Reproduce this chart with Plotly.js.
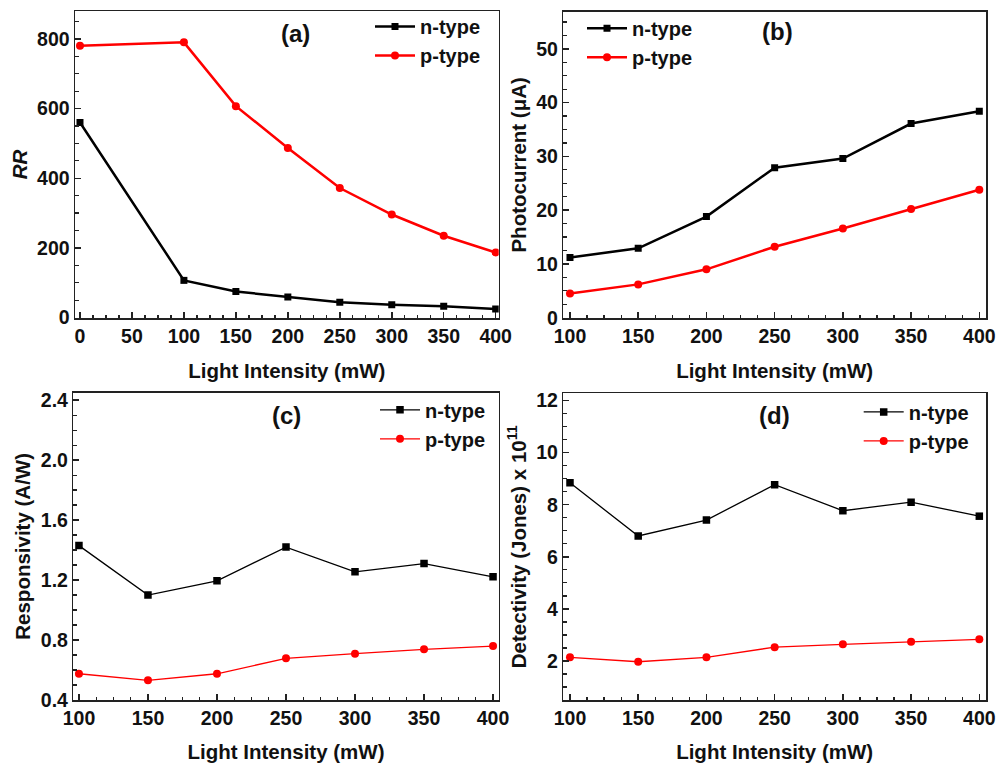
<!DOCTYPE html>
<html>
<head>
<meta charset="utf-8">
<script src="https://cdn.plot.ly/plotly-3.0.1.min.js"></script>
<style>html,body{margin:0;padding:0;background:#fff;}#chart{width:996px;height:763px;}</style>
</head>
<body>
<div id="chart"></div>
<script>
// ---- data ----
const seriesNames = ['n-type', 'p-type'];
const intensityA = [0, 100, 150, 200, 250, 300, 350, 400];
const rrN = [560, 107, 75, 59, 44, 37, 33, 25];
const rrP = [780, 790, 607, 487, 372, 296, 235, 187];
const intensity = [100, 150, 200, 250, 300, 350, 400];
const photoN = [11.2, 12.9, 18.8, 27.9, 29.6, 36.1, 38.4];
const photoP = [4.5, 6.2, 9.0, 13.2, 16.6, 20.2, 23.8];
const respN = [1.43, 1.10, 1.195, 1.42, 1.255, 1.31, 1.222];
const respP = [0.575, 0.531, 0.575, 0.678, 0.709, 0.738, 0.76];
const detN = [8.84, 6.80, 7.41, 8.77, 7.77, 8.10, 7.56];
const detP = [2.14, 1.97, 2.14, 2.53, 2.64, 2.74, 2.83];
const panelLabels = ['(a)', '(b)', '(c)', '(d)'];
const xTitle = 'Light Intensity (mW)';
const yTitles = ['<i>RR</i>', 'Photocurrent (\u03bcA)', 'Responsivity (A/W)', 'Detectivity (Jones) x 10<sup>11</sup>'];

// ---- styles ----
const FONT = 'Liberation Sans, Arial, sans-serif';
const BLACK = '#000000', RED = '#ff0000';

function mk(x, y, name, color, sym, xa, ya, lw, ms, legend) {
  return {
    x: x, y: y, name: name, type: 'scatter', mode: 'lines+markers',
    xaxis: xa, yaxis: ya, legend: legend, showlegend: true,
    line: {color: color, width: lw},
    marker: {color: color, symbol: sym, size: ms}
  };
}

const data = [
  mk(intensityA, rrN, seriesNames[0], BLACK, 'square', 'x', 'y', 2.5, 7, 'legend'),
  mk(intensityA, rrP, seriesNames[1], RED, 'circle', 'x', 'y', 2.5, 8, 'legend'),
  mk(intensity, photoN, seriesNames[0], BLACK, 'square', 'x2', 'y2', 2.5, 7, 'legend2'),
  mk(intensity, photoP, seriesNames[1], RED, 'circle', 'x2', 'y2', 2.5, 8, 'legend2'),
  mk(intensity, respN, seriesNames[0], BLACK, 'square', 'x3', 'y3', 1.3, 7.5, 'legend3'),
  mk(intensity, respP, seriesNames[1], RED, 'circle', 'x3', 'y3', 1.3, 8, 'legend3'),
  mk(intensity, detN, seriesNames[0], BLACK, 'square', 'x4', 'y4', 1.3, 7.5, 'legend4'),
  mk(intensity, detP, seriesNames[1], RED, 'circle', 'x4', 'y4', 1.3, 8, 'legend4')
];

function xax(domain, range, tick0, anchor) {
  return {
    domain: domain, range: range, anchor: anchor,
    tick0: tick0, dtick: 50, ticks: 'inside', ticklen: 6, tickwidth: 1.5, tickcolor: '#222',
    minor: {ticks: 'inside', ticklen: 3.5, tickwidth: 1.3, tickcolor: '#222', dtick: 12.5, showgrid: false},
    showline: true, linecolor: '#222', linewidth: 1.5, mirror: true,
    showgrid: false, zeroline: false,
    tickfont: {family: FONT, size: 19.5, color: '#111', weight: 'bold'},
    title: {text: xTitle, font: {family: FONT, size: 20.5, color: '#111', weight: 'bold'}, standoff: 17}
  };
}
function yax(domain, range, dtick, minorD, anchor, title, fmt) {
  return {
    domain: domain, range: range, anchor: anchor,
    tick0: 0, dtick: dtick, tickformat: fmt || '', ticks: 'inside', ticklen: 6, tickwidth: 1.5, tickcolor: '#222',
    minor: {ticks: 'inside', ticklen: 3.5, tickwidth: 1.3, tickcolor: '#222', dtick: minorD, showgrid: false},
    showline: true, linecolor: '#222', linewidth: 1.5, mirror: true,
    showgrid: false, zeroline: false,
    tickfont: {family: FONT, size: 19.5, color: '#111', weight: 'bold'},
    title: {text: title, font: {family: FONT, size: 20.5, color: '#111', weight: 'bold'}, standoff: 4}
  };
}

const legFont = {family: FONT, size: 20, color: '#111', weight: 'bold'};
function leg(x, y) {
  return {x: x, y: y, xref: 'paper', yref: 'paper', xanchor: 'left', yanchor: 'top',
    bgcolor: 'rgba(0,0,0,0)', borderwidth: 0, font: legFont, itemwidth: 40, tracegroupgap: 0};
}

function ann(text, x, y) {
  return {text: text, x: x, y: y, xref: 'paper', yref: 'paper', xanchor: 'center', yanchor: 'middle',
    showarrow: false, font: {family: FONT, size: 24, color: '#111', weight: 'bold'}};
}

const W = 996, H = 763;
const layout = {
  width: W, height: H,
  margin: {l: 0, r: 0, t: 0, b: 0},
  paper_bgcolor: '#ffffff', plot_bgcolor: '#ffffff',
  showlegend: true,
  xaxis: xax([75 / W, 498.7 / W], [-4.8, 402.9], 0, 'y'),
  yaxis: yax([1 - 318 / H, 1 - 11 / H], [-1, 880], 200, 50, 'x', yTitles[0]),
  xaxis2: xax([563.3 / W, 986 / W], [95.1, 404.9], 100, 'y2'),
  yaxis2: yax([1 - 318 / H, 1 - 11.7 / H], [-0.05, 56.9], 10, 2.5, 'x2', yTitles[1]),
  xaxis3: xax([73.3 / W, 498.7 / W], [95.9, 404.1], 100, 'y3'),
  yaxis3: yax([1 - 700 / H, 1 - 392.7 / H], [0.4, 2.45], 0.4, 0.1, 'x3', yTitles[2], '.1f'),
  xaxis4: xax([563.3 / W, 986 / W], [95.1, 404.9], 100, 'y4'),
  yaxis4: yax([1 - 700 / H, 1 - 393.3 / H], [0.5, 12.28], 2, 0.5, 'x4', yTitles[3]),
  legend: leg(370 / W, 1 - 7 / H),
  legend2: leg(582 / W, 1 - 8.7 / H),
  legend3: leg(375 / W, 1 - 390.3 / H),
  legend4: leg(858.7 / W, 1 - 392.4 / H),
  annotations: [
    ann(panelLabels[0], 295 / W, 1 - 33 / H),
    ann(panelLabels[1], 777 / W, 1 - 32 / H),
    ann(panelLabels[2], 286 / W, 1 - 415 / H),
    ann(panelLabels[3], 774 / W, 1 - 415 / H)
  ]
};

Plotly.newPlot('chart', data, layout, {displayModeBar: false, staticPlot: true});
</script>
</body>
</html>
